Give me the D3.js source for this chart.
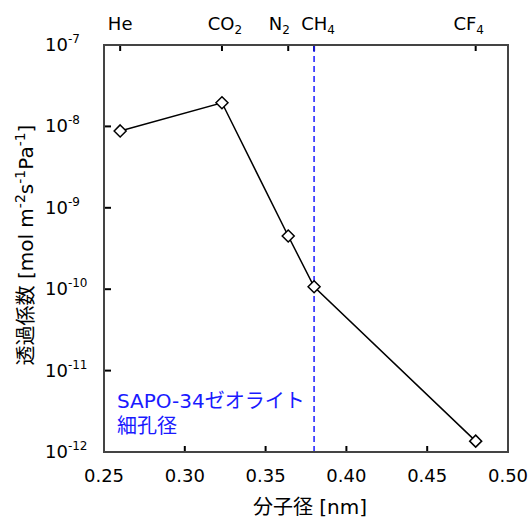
<!DOCTYPE html>
<html>
<head>
<meta charset="utf-8">
<script src="https://cdn.jsdelivr.net/npm/d3@7"></script>
<style>
  body { margin: 0; background: white; }
  text { font-family: "DejaVu Sans", "Noto Sans CJK JP", sans-serif; }
</style>
</head>
<body>
<div id="chart"></div>
<script>
// gas molecules and their kinetic diameters [nm]
const gasLabels = [["He", ""], ["CO", "2"], ["N", "2"], ["CH", "4"], ["CF", "4"]];
const diameters = [0.26, 0.323, 0.364, 0.38, 0.48];
const permeance = [8.8e-9, 1.95e-8, 4.5e-10, 1.07e-10, 1.36e-12];
const xTicks = [0.25, 0.30, 0.35, 0.40, 0.45, 0.50];
const yTicks = [1e-7, 1e-8, 1e-9, 1e-10, 1e-11, 1e-12];
const poreSize = 0.38;

// nudges so the crowded top labels don't collide
const labelShift = [0, 3, -9, 4, -7];

const width = 531, height = 518;
const margin = { top: 45, right: 23, bottom: 66, left: 104 };
const blue = "#1a1aff";

const svg = d3.select("#chart").append("svg")
  .attr("width", width)
  .attr("height", height);

const x = d3.scaleLinear()
  .domain([0.25, 0.50])
  .range([margin.left, width - margin.right]);

const y = d3.scaleLog()
  .domain([1e-12, 1e-7])
  .range([height - margin.bottom, margin.top]);

// bottom ticks (inward)
svg.selectAll(".xtick")
  .data(xTicks.slice(1, -1))
  .enter()
  .append("line")
  .attr("x1", d => x(d)).attr("x2", d => x(d))
  .attr("y1", y(1e-12)).attr("y2", y(1e-12) - 6)
  .style("stroke", "black").style("stroke-width", 2);

svg.selectAll(".xlabel")
  .data(xTicks)
  .enter()
  .append("text")
  .attr("x", d => x(d))
  .attr("y", 482)
  .attr("text-anchor", "middle")
  .style("font-size", "18px")
  .text(d => d.toFixed(2));

// top ticks at gas diameters
svg.selectAll(".ttick")
  .data(diameters)
  .enter()
  .append("line")
  .attr("x1", d => x(d)).attr("x2", d => x(d))
  .attr("y1", y(1e-7)).attr("y2", y(1e-7) + 6)
  .style("stroke", "black").style("stroke-width", 2);

const tl = svg.selectAll(".tlabel")
  .data(diameters)
  .enter()
  .append("text")
  .attr("x", (d, i) => x(d) + labelShift[i])
  .attr("y", 30)
  .attr("text-anchor", "middle")
  .style("font-size", "18px");
tl.append("tspan").text((d, i) => gasLabels[i][0]);
tl.append("tspan")
  .attr("dy", 4)
  .style("font-size", "12px")
  .text((d, i) => gasLabels[i][1]);

// left ticks
svg.selectAll(".ytick")
  .data(yTicks.slice(1, -1))
  .enter()
  .append("line")
  .attr("x1", x(0.25)).attr("x2", x(0.25) + 7)
  .attr("y1", d => y(d)).attr("y2", d => y(d))
  .style("stroke", "black").style("stroke-width", 2);

const yl = svg.selectAll(".ylabel")
  .data(yTicks)
  .enter()
  .append("text")
  .attr("x", 45)
  .attr("y", d => y(d) + 6)
  .style("font-size", "18px");
yl.append("tspan").text("10");
yl.append("tspan")
  .attr("dy", -8)
  .style("font-size", "12px")
  .text(d => Math.round(Math.log10(d)));

// frame
svg.append("rect")
  .attr("x", x(0.25)).attr("y", y(1e-7))
  .attr("width", x(0.50) - x(0.25))
  .attr("height", y(1e-12) - y(1e-7))
  .style("fill", "none")
  .style("stroke", "#444")
  .style("stroke-width", 2);

// pore size line
svg.append("line")
  .attr("x1", x(poreSize)).attr("x2", x(poreSize))
  .attr("y1", y(1e-7) + 1).attr("y2", y(1e-12) - 1)
  .style("stroke", blue)
  .style("stroke-width", 1.5)
  .style("stroke-dasharray", "6,4");

svg.append("text")
  .attr("x", 117).attr("y", 408)
  .style("font-size", "20px")
  .style("fill", blue)
  .text("SAPO-34ゼオライト");
svg.append("text")
  .attr("x", 117).attr("y", 433)
  .style("font-size", "20px")
  .style("fill", blue)
  .text("細孔径");

// data line and markers
const pts = diameters.map((d, i) => [d, permeance[i]]);
svg.append("path")
  .datum(pts)
  .attr("d", d3.line().x(d => x(d[0])).y(d => y(d[1])))
  .style("fill", "none")
  .style("stroke", "black")
  .style("stroke-width", 1.5);

svg.selectAll(".marker")
  .data(pts)
  .enter()
  .append("path")
  .attr("transform", d => `translate(${x(d[0])},${y(d[1])})`)
  .attr("d", "M0,-6L6,0L0,6L-6,0Z")
  .style("fill", "white")
  .style("stroke", "black")
  .style("stroke-width", 1.5);

// axis titles
svg.append("text")
  .attr("x", 310).attr("y", 514)
  .attr("text-anchor", "middle")
  .style("font-size", "20px")
  .text("分子径 [nm]");

const yt = svg.append("text")
  .attr("transform", `translate(33,245) rotate(-90)`)
  .attr("text-anchor", "middle")
  .style("font-size", "20px");
yt.append("tspan").text("透過係数 [mol m");
yt.append("tspan").attr("dy", -8).style("font-size", "14px").text("-2");
yt.append("tspan").attr("dy", 8).text("s");
yt.append("tspan").attr("dy", -8).style("font-size", "14px").text("-1");
yt.append("tspan").attr("dy", 8).text("Pa");
yt.append("tspan").attr("dy", -8).style("font-size", "14px").text("-1");
yt.append("tspan").attr("dy", 8).text("]");
</script>
</body>
</html>
